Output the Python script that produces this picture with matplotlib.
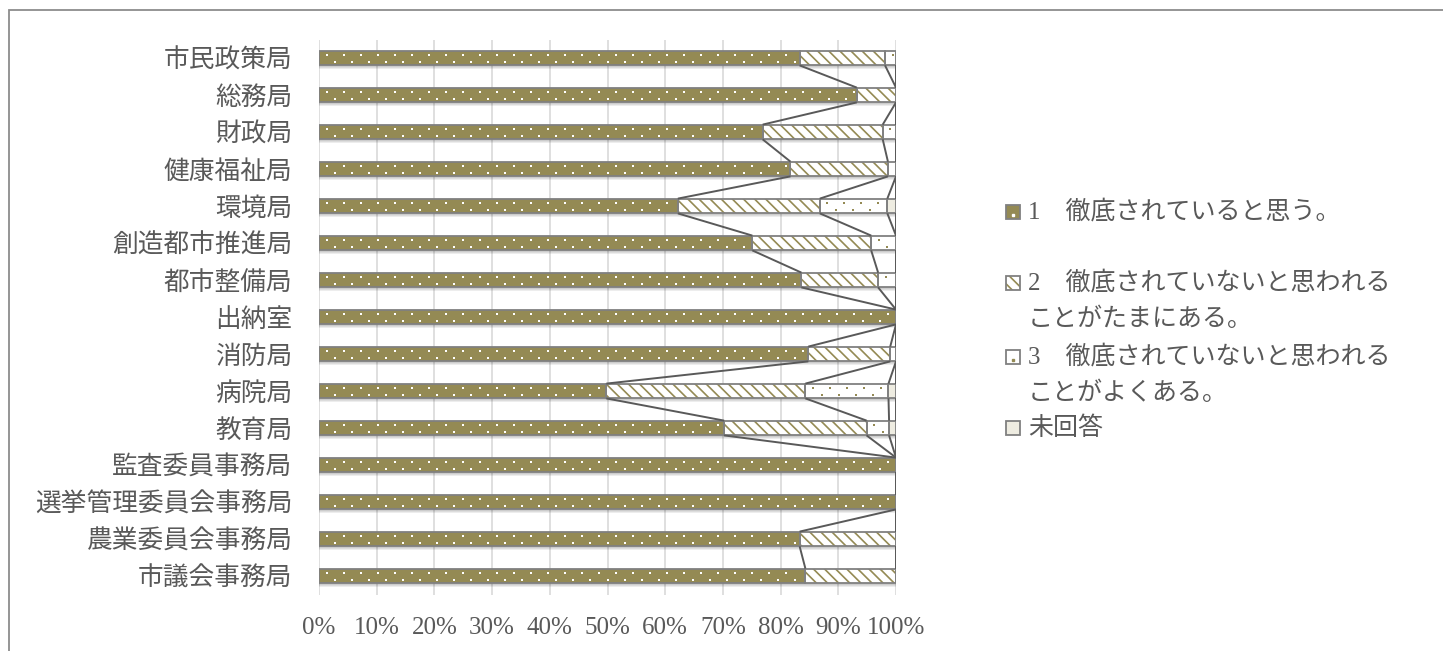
import numpy as np
import matplotlib
matplotlib.use('Agg')
import matplotlib.pyplot as plt
from matplotlib.patches import Rectangle
from matplotlib.lines import Line2D

plt.rcParams['hatch.linewidth'] = 1.2

departments = ['市民政策局', '総務局', '財政局', '健康福祉局', '環境局', '創造都市推進局',
               '都市整備局', '出納室', '消防局', '病院局', '教育局', '監査委員事務局',
               '選挙管理委員会事務局', '農業委員会事務局', '市議会事務局']

# percentages
often_not = [83.3, 93.2, 76.9, 81.7, 62.2, 75.1, 83.6, 100, 84.8, 49.8, 70.2, 100, 100, 83.3, 84.3]
sometimes = [14.8, 6.8, 20.8, 16.9, 24.6, 20.6, 13.3, 0, 14.2, 34.5, 24.7, 0, 0, 16.7, 15.7]
frequently = [1.9, 0, 2.3, 1.4, 11.7, 4.3, 3.1, 0, 1.0, 14.4, 3.9, 0, 0, 0, 0]
no_answer = [0, 0, 0, 0, 1.5, 0, 0, 0, 0, 1.3, 1.2, 0, 0, 0, 0]

legend_labels = [['1　徹底されていると思う。'],
                 ['2　徹底されていないと思われる', 'ことがたまにある。'],
                 ['3　徹底されていないと思われる', 'ことがよくある。'],
                 ['未回答']]

xticks = [0, 10, 20, 30, 40, 50, 60, 70, 80, 90, 100]

OLIVE = '#948A54'
BEIGE = '#EEECE1'
EDGE = '#808080'
TXT = '#595959'

# (face, hatch, hatch colour, dot colour)
styles = [(OLIVE, '', OLIVE, 'white'),
          ('white', '\\\\\\', OLIVE, None),
          ('white', '', 'white', OLIVE),
          (BEIGE, '', BEIGE, None)]

W, H = 1443, 651
fig = plt.figure(figsize=(W / 100, H / 100), dpi=100)
ax = fig.add_axes([319 / W, 1 - 594.5 / H, 577 / W, 555 / H])

series = [often_not, sometimes, frequently, no_answer]
n = len(departments)
y = np.arange(n)
bh = 0.4


def dot_texture(lefts, widths, color):
    # sparse staggered dot pattern like the Excel "dotted" fill
    step = 2.95
    for l, w, yc in zip(lefts, widths, y):
        if w <= 0:
            continue
        for start, dy in [(1.3, -0.085), (2.8, 0.1)]:
            xs = np.arange(l + start, l + w - 0.4, step)
            ax.scatter(xs, np.full(len(xs), yc + dy), s=3, marker='s', color=color,
                       lw=0, zorder=2.5)


# soft shadow under the bars
totals = np.sum(series, axis=0)
for off in [0.03, 0.07, 0.11]:
    ax.barh(y + off, totals, height=bh, color='black', alpha=0.07, lw=0, zorder=1)

left = np.zeros(n)
cum = []
for vals, (face, hatch, hcol, dcol) in zip(series, styles):
    vals = np.array(vals, dtype=float)
    ax.barh(y, vals, left=left, height=bh, facecolor=face, hatch=hatch,
            edgecolor=hcol, lw=0, zorder=2)
    if dcol:
        dot_texture(left, vals, dcol)
    ax.barh(y, vals, left=left, height=bh, fill=False, edgecolor=EDGE, lw=1.3, zorder=3)
    left = left + vals
    cum.append(left.copy())

# series lines between neighbouring bars
for c in cum:
    for i in range(n - 1):
        ax.plot([c[i], c[i + 1]], [i + bh / 2, i + 1 - bh / 2], color='#595959',
                lw=1.4, zorder=4, solid_capstyle='butt')

ax.set_xlim(0, 100)
ax.set_ylim(n - 0.5, -0.5)
ax.set_xticks(xticks)
ax.set_xticklabels([f'{v}%' for v in xticks], family='Liberation Serif', fontsize=18, color=TXT)
ax.set_yticks(y)
ax.set_yticklabels(departments, family='Noto Sans CJK JP', fontsize=18.5, color=TXT)
ax.tick_params(axis='both', length=0)
ax.tick_params(axis='x', pad=16)
ax.tick_params(axis='y', pad=19)
ax.grid(axis='x', color='#d9d9d9', lw=1.2, zorder=0)
ax.set_axisbelow(True)
for s in ax.spines.values():
    s.set_visible(False)


# legend drawn by hand to follow the wrapped layout
def fx(px):
    return px / W


def fy(py):
    return 1 - py / H


legend_y = [212, 283, 357, 428]
line_gap = 36.5
for lines, (face, hatch, hcol, dcol), ly in zip(legend_labels, styles, legend_y):
    fig.add_artist(Rectangle((fx(1006), fy(ly + 7)), 14 / W, 14 / H, transform=fig.transFigure,
                             facecolor=face, hatch=hatch, edgecolor=hcol, lw=0))
    if dcol:
        fig.add_artist(Line2D([fx(1013)], [fy(ly + 3)], transform=fig.transFigure, marker='s',
                              markersize=1.6, color=dcol, lw=0))
    fig.add_artist(Rectangle((fx(1006), fy(ly + 7)), 14 / W, 14 / H, transform=fig.transFigure,
                             fill=False, edgecolor=EDGE, lw=1.3))
    for k, t in enumerate(lines):
        fig.text(fx(1028), fy(ly + k * line_gap), t, fontsize=18, color=TXT, va='center',
                 ha='left', family=['Liberation Serif', 'Noto Sans CJK JP'])

# chart frame (only top/left edges fall inside the picture)
fig.add_artist(Rectangle((fx(9), -0.1), 1.2, fy(10) + 0.1, transform=fig.transFigure,
                         fill=False, edgecolor='#8c8c8c', lw=1.3))

fig.savefig('out.png', dpi=100)
